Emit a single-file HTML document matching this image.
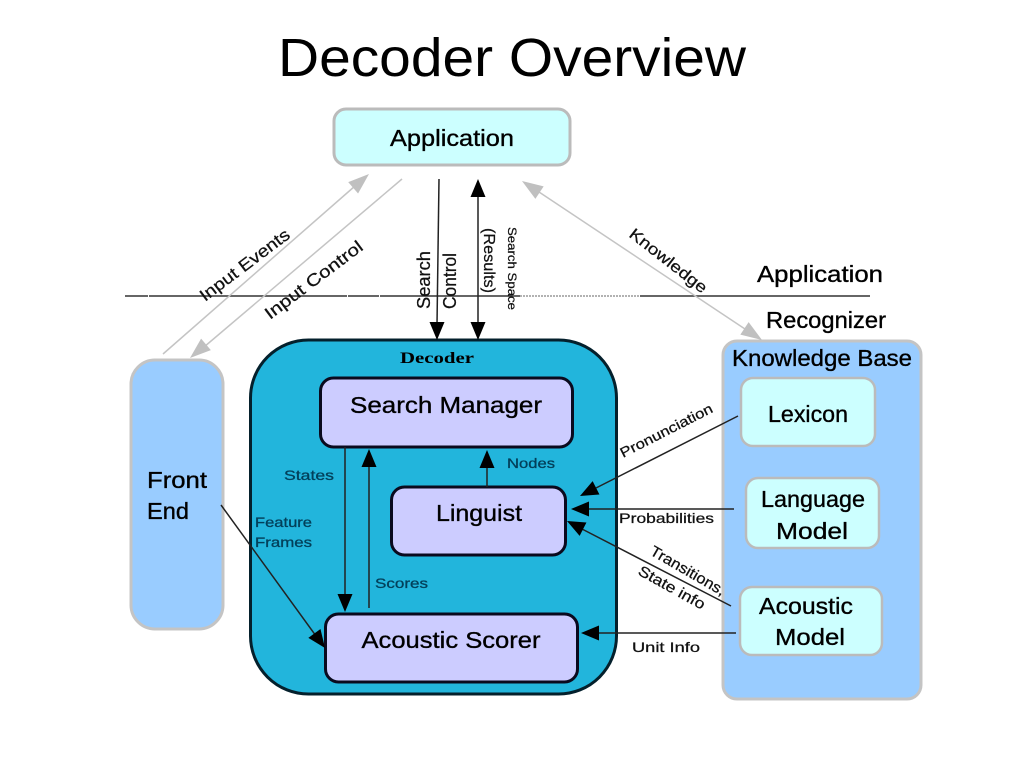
<!DOCTYPE html>
<html><head><meta charset="utf-8"><style>
html,body{margin:0;padding:0;background:#fff}
svg{display:block}
text{font-family:"Liberation Sans",sans-serif;fill:#000}
.n{font-size:23px;text-anchor:middle;stroke:#000;stroke-width:.35px}
.s{font-size:14px;fill:#111;stroke:#111;stroke-width:.25px}
.d{font-size:14px;fill:#03405a;stroke:#03405a;stroke-width:.3px}
</style></head><body>
<svg width="1024" height="768" viewBox="0 0 1024 768" xmlns="http://www.w3.org/2000/svg">
<defs>
<g id="a"><path d="M0 0L-18 -7.500L-18 7.500Z"/></g>
<g id="g"><path d="M0 0L-21 -7.500L-21 7.500Z" fill="#c0c0c0"/></g>
</defs>
<text x="512" y="76" text-anchor="middle" font-size="54" textLength="468" lengthAdjust="spacingAndGlyphs">Decoder Overview</text>

<rect x="131" y="360" width="92" height="269" rx="24" fill="#99ccff" stroke="#c4c4c4" stroke-width="3"/>
<rect x="723" y="341" width="198" height="358" rx="14" fill="#99ccff" stroke="#c4c4c4" stroke-width="3"/>
<rect x="250.500" y="340" width="366" height="354" rx="58" fill="#22b5dc" stroke="#04202c" stroke-width="3"/>
<rect x="334" y="109" width="236" height="56" rx="12" fill="#ccffff" stroke="#bbb" stroke-width="3"/>
<rect x="320.500" y="378" width="252" height="69" rx="13" fill="#ccccff" stroke="#0a0a1e" stroke-width="3"/>
<rect x="391.500" y="487" width="174" height="68" rx="13" fill="#ccccff" stroke="#0a0a1e" stroke-width="3"/>
<rect x="325.500" y="614" width="252" height="68" rx="13" fill="#ccccff" stroke="#0a0a1e" stroke-width="3"/>
<rect x="741" y="378" width="134" height="68" rx="12" fill="#ccffff" stroke="#bbb" stroke-width="2.500"/>
<rect x="746" y="478" width="133" height="70" rx="12" fill="#ccffff" stroke="#bbb" stroke-width="2.500"/>
<rect x="740" y="587" width="142" height="68" rx="12" fill="#ccffff" stroke="#bbb" stroke-width="2.500"/>

<line x1="125" y1="296" x2="520" y2="296" stroke="#333" stroke-width="1.500"/>
<line x1="520" y1="296" x2="640" y2="296" stroke="#999" stroke-width="1.500" stroke-dasharray="2 1"/>
<line x1="640" y1="296" x2="870" y2="296" stroke="#333" stroke-width="1.500"/>
<g stroke="#fff" stroke-width="1"><line x1="148.500" y1="295" x2="148.500" y2="297"/><line x1="347.500" y1="295" x2="347.500" y2="297"/><line x1="379.500" y1="295" x2="379.500" y2="297"/></g>

<g stroke="#c4c4c4" stroke-width="1.500" fill="none">
<line x1="163" y1="354" x2="355" y2="186"/>
<line x1="402" y1="179" x2="204" y2="347"/>
<line x1="536" y1="190" x2="748" y2="331"/>
</g>
<use href="#g" transform="translate(369,174) rotate(-41)"/>
<use href="#g" transform="translate(190,358) rotate(139.500)"/>
<use href="#g" transform="translate(522,181) rotate(213.500)"/>
<use href="#g" transform="translate(762,340) rotate(33.500)"/>

<g stroke="#222" stroke-width="1.500" fill="none">
<line x1="439" y1="179" x2="437" y2="325"/>
<line x1="478" y1="195" x2="478" y2="325"/>
<line x1="345" y1="447" x2="345" y2="598"/>
<line x1="369" y1="608" x2="369" y2="465"/>
<line x1="487" y1="487" x2="487" y2="465"/>
<line x1="221" y1="505" x2="316" y2="636"/>
<line x1="738" y1="416" x2="596" y2="488"/>
<line x1="734" y1="509" x2="588" y2="509"/>
<line x1="731" y1="606" x2="582" y2="529"/>
<line x1="736" y1="633" x2="597" y2="633"/>
</g>
<use href="#a" transform="translate(437,340) rotate(90)"/>
<use href="#a" transform="translate(478,340) rotate(90)"/>
<use href="#a" transform="translate(478,179) rotate(-90)"/>
<use href="#a" transform="translate(345,612) rotate(90)"/>
<use href="#a" transform="translate(369,449) rotate(-90)"/>
<use href="#a" transform="translate(487,450) rotate(-90)"/>
<use href="#a" transform="translate(325,648) rotate(54)"/>
<use href="#a" transform="translate(580,496) rotate(153)"/>
<use href="#a" transform="translate(571,509) rotate(180)"/>
<use href="#a" transform="translate(567,521) rotate(207)"/>
<use href="#a" transform="translate(581,633) rotate(180)"/>

<text class="n" x="452" y="146" textLength="124" lengthAdjust="spacingAndGlyphs">Application</text>
<text class="n" x="446" y="413" textLength="192" lengthAdjust="spacingAndGlyphs">Search Manager</text>
<text class="n" x="479" y="521" textLength="86" lengthAdjust="spacingAndGlyphs">Linguist</text>
<text class="n" x="451" y="648" textLength="179" lengthAdjust="spacingAndGlyphs">Acoustic Scorer</text>
<text class="n" x="177" y="488" textLength="60" lengthAdjust="spacingAndGlyphs">Front</text>
<text x="147" y="519" font-size="23" stroke="#000" stroke-width=".35" textLength="42" lengthAdjust="spacingAndGlyphs">End</text>
<text class="n" x="808" y="422" textLength="80" lengthAdjust="spacingAndGlyphs">Lexicon</text>
<text class="n" x="813" y="507" textLength="104" lengthAdjust="spacingAndGlyphs">Language</text>
<text class="n" x="812" y="539" textLength="72" lengthAdjust="spacingAndGlyphs">Model</text>
<text class="n" x="806" y="614" textLength="94" lengthAdjust="spacingAndGlyphs">Acoustic</text>
<text class="n" x="810" y="645" textLength="70" lengthAdjust="spacingAndGlyphs">Model</text>
<text class="n" x="822" y="366" textLength="180" lengthAdjust="spacingAndGlyphs">Knowledge Base</text>
<text class="n" x="820" y="282" textLength="126" lengthAdjust="spacingAndGlyphs">Application</text>
<text class="n" x="826" y="328" textLength="120" lengthAdjust="spacingAndGlyphs">Recognizer</text>

<text x="437" y="363" text-anchor="middle" font-size="16" font-weight="bold" fill="#06283a" style="font-family:'Liberation Serif',serif" textLength="74" lengthAdjust="spacingAndGlyphs">Decoder</text>

<text class="s" transform="translate(205,302) rotate(-37)" style="font-size:17px" textLength="108" lengthAdjust="spacingAndGlyphs">Input Events</text>
<text class="s" transform="translate(270,320) rotate(-37)" style="font-size:17px" textLength="118" lengthAdjust="spacingAndGlyphs">Input Control</text>
<text class="s" transform="translate(430,309) rotate(-90)" style="font-size:18px" textLength="58" lengthAdjust="spacingAndGlyphs">Search</text>
<text class="s" transform="translate(456,309) rotate(-90)" style="font-size:18px" textLength="56" lengthAdjust="spacingAndGlyphs">Control</text>
<text class="s" transform="translate(484,228) rotate(90)" style="font-size:16px" textLength="65" lengthAdjust="spacingAndGlyphs">(Results)</text>
<text class="s" transform="translate(508,227) rotate(90)" style="font-size:12px" textLength="83" lengthAdjust="spacingAndGlyphs">Search Space</text>
<text class="s" transform="translate(628,236) rotate(38)" style="font-size:16px" textLength="94" lengthAdjust="spacingAndGlyphs">Knowledge</text>
<text class="s" transform="translate(623,458) rotate(-27)" style="font-size:14px" textLength="102" lengthAdjust="spacingAndGlyphs">Pronunciation</text>
<text class="s" x="619" y="523" textLength="95" lengthAdjust="spacingAndGlyphs">Probabilities</text>
<text class="s" transform="translate(649,554) rotate(30)" style="font-size:15px" textLength="84" lengthAdjust="spacingAndGlyphs">Transitions,</text>
<text class="s" transform="translate(637,574) rotate(29)" style="font-size:15px" textLength="74" lengthAdjust="spacingAndGlyphs">State info</text>
<text class="s" x="632" y="652" textLength="68" lengthAdjust="spacingAndGlyphs">Unit Info</text>
<text class="d" x="284" y="480" textLength="50" lengthAdjust="spacingAndGlyphs">States</text>
<text class="d" x="255" y="527" textLength="57" lengthAdjust="spacingAndGlyphs">Feature</text>
<text class="d" x="255" y="547" textLength="57" lengthAdjust="spacingAndGlyphs">Frames</text>
<text class="d" x="375" y="588" textLength="53" lengthAdjust="spacingAndGlyphs">Scores</text>
<text class="d" x="507" y="468" textLength="48" lengthAdjust="spacingAndGlyphs">Nodes</text>
</svg>
</body></html>
